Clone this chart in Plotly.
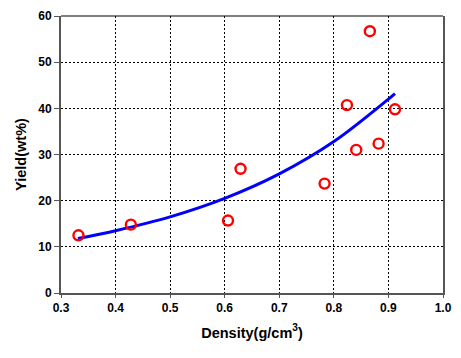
import plotly.graph_objects as go

# Measured data points
density = [0.332, 0.428, 0.606, 0.629, 0.783, 0.824, 0.841, 0.866, 0.882, 0.912]
yield_wt = [12.5, 14.8, 15.7, 26.9, 23.7, 40.7, 31.0, 56.7, 32.35, 39.8]

# Trend line
trend_x = [0.331, 0.4, 0.5, 0.6, 0.7, 0.8, 0.9, 0.912]
trend_y = [11.8, 13.5, 16.5, 20.5, 25.8, 32.8, 42.0, 43.2]

x_ticks = [0.3, 0.4, 0.5, 0.6, 0.7, 0.8, 0.9, 1.0]
y_ticks = [0, 10, 20, 30, 40, 50, 60]

font_family = "Liberation Sans, Arial, sans-serif"

fig = go.Figure()
fig.add_trace(go.Scatter(
    x=trend_x, y=trend_y, mode="lines",
    line=dict(color="#0000ff", width=3, shape="spline", smoothing=1.0),
    showlegend=False, hoverinfo="skip"))
fig.add_trace(go.Scatter(
    x=density, y=yield_wt, mode="markers",
    marker=dict(symbol="circle-open", size=10, color="#ff0000",
                line=dict(width=2.4, color="#ff0000")),
    showlegend=False))

fig.update_layout(
    width=461, height=358,
    margin=dict(l=61, r=9, t=13, b=65),
    paper_bgcolor="white", plot_bgcolor="white",
    font=dict(family=font_family, color="black"),
    xaxis=dict(
        range=[0.3, 1.0], tickvals=x_ticks,
        ticktext=[f"{v:.1f}" for v in x_ticks],
        showgrid=True, gridcolor="black", griddash="2px,2px", gridwidth=1,
        showline=True, linecolor="#555555", linewidth=2, mirror=False,
        ticks="outside", ticklen=3, tickcolor="#555555", tickwidth=1,
        zeroline=False,
        tickfont=dict(size=12, family=font_family, weight="bold"),
        title=dict(text="Density(g/cm<sup>3</sup>)", standoff=13,
                   font=dict(size=14.5, family=font_family, weight="bold")),
    ),
    yaxis=dict(
        range=[0, 60], tickvals=y_ticks,
        showgrid=True, gridcolor="black", griddash="2px,2px", gridwidth=1,
        showline=True, linecolor="#555555", linewidth=2, mirror=True,
        ticks="outside", ticklen=5, tickcolor="#555555", tickwidth=1,
        zeroline=False,
        tickfont=dict(size=12, family=font_family, weight="bold"),
        title=dict(text="Yield(wt%)", standoff=8,
                   font=dict(size=14.5, family=font_family, weight="bold")),
    ),
)
fig.add_shape(type="line", xref="paper", yref="paper", x0=0, x1=1, y0=1, y1=1,
              line=dict(color="black", width=1.2))

fig.write_html("out.html")
